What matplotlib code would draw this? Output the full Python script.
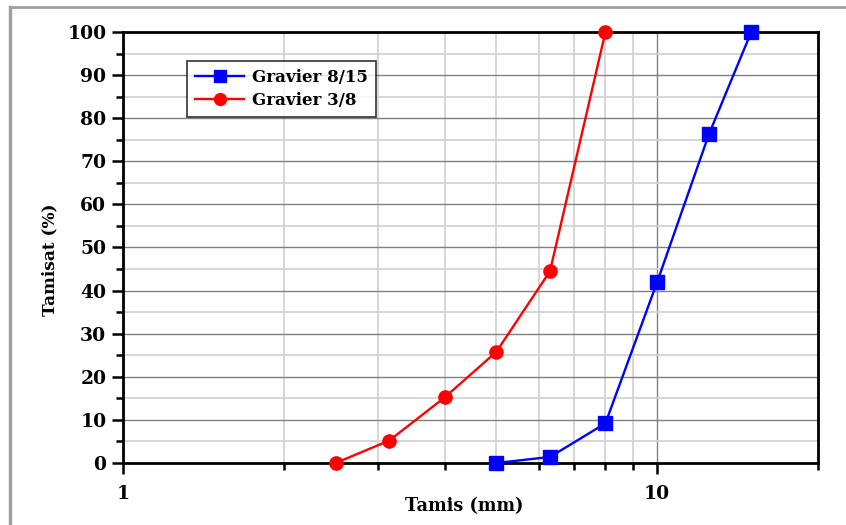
import matplotlib
matplotlib.use("Agg")
import matplotlib.pyplot as plt
from matplotlib.ticker import FixedLocator, NullFormatter, FixedFormatter
from matplotlib.lines import Line2D

# Data
sieve_815 = [5, 6.3, 8, 10, 12.5, 15]
pass_815 = [0, 1.4, 9.2, 42, 76.3, 100]
sieve_38 = [2.5, 3.15, 4, 5, 6.3, 8]
pass_38 = [0, 5.2, 15.2, 25.8, 44.5, 100]
label_815 = "Gravier 8/15"
label_38 = "Gravier 3/8"
x_major = [1, 10]
x_major_labels = ["1", "10"]
x_minor = [2, 3, 4, 5, 6, 7, 8, 9, 20]
y_major = list(range(0, 101, 10))
y_minor = list(range(5, 100, 10))

plt.rcParams['font.family'] = ['DejaVu Serif']
plt.rcParams['font.weight'] = 'bold'

fig = plt.figure(figsize=(8.46, 5.25), dpi=100)
ax = fig.add_axes([123/846, 1-463/525, (818-123)/846, (463-32)/525])

ax.set_xscale('log')
ax.set_xlim(1, 20)
ax.set_ylim(0, 100)

ax.xaxis.set_major_locator(FixedLocator(x_major))
ax.xaxis.set_major_formatter(FixedFormatter(x_major_labels))
ax.xaxis.set_minor_locator(FixedLocator(x_minor))
ax.xaxis.set_minor_formatter(NullFormatter())
ax.yaxis.set_major_locator(FixedLocator(y_major))
ax.yaxis.set_minor_locator(FixedLocator(y_minor))

ax.grid(which='major', color='#808080', linewidth=1.0)
ax.grid(which='minor', color='#d3d3d3', linewidth=1.3)
ax.set_axisbelow(True)

ax.tick_params(which='major', direction='out', length=8, width=1.8, labelsize=13.5, pad=4)
ax.tick_params(which='minor', direction='out', length=5, width=1.8)
ax.tick_params(axis='x', which='major', pad=8)
for s in ax.spines.values():
    s.set_linewidth(2)
    s.set_color('black')

ax.plot(sieve_815, pass_815, color='#0000ff', marker='s', markersize=9.5, linewidth=1.7,
        label=label_815, clip_on=False, zorder=5)
ax.plot(sieve_38, pass_38, color='#ff0000', marker='o', markersize=9.5, linewidth=1.7,
        label=label_38, clip_on=False, zorder=5)

ax.set_xlabel('Tamis (mm)', fontsize=12.7, fontweight='bold')
ax.set_ylabel('Tamisat (%)', fontsize=12.2, fontweight='bold')
ax.xaxis.set_label_coords((464-123)/695, (463-497)/431)
ax.yaxis.set_label_coords((58-123)/695, (463-260)/431)

leg = ax.legend(loc='upper left', bbox_to_anchor=((187-123)/695, (463-61)/431),
                fontsize=12, frameon=True, fancybox=False, borderaxespad=0,
                handlelength=2.9, borderpad=0.5, labelspacing=0.35, handletextpad=0.5,
                markerscale=0.9)
leg.get_frame().set_edgecolor('black')
leg.get_frame().set_linewidth(1.2)

# figure frame lines (left and top)
fig.add_artist(Line2D([10/846, 10/846], [0, 1-7/525], color='#a0a0a0', linewidth=2.5,
                      transform=fig.transFigure))
fig.add_artist(Line2D([10/846, 1], [1-7/525, 1-7/525], color='#a0a0a0', linewidth=2.0,
                      transform=fig.transFigure))

fig.savefig('out.png', dpi=100)
